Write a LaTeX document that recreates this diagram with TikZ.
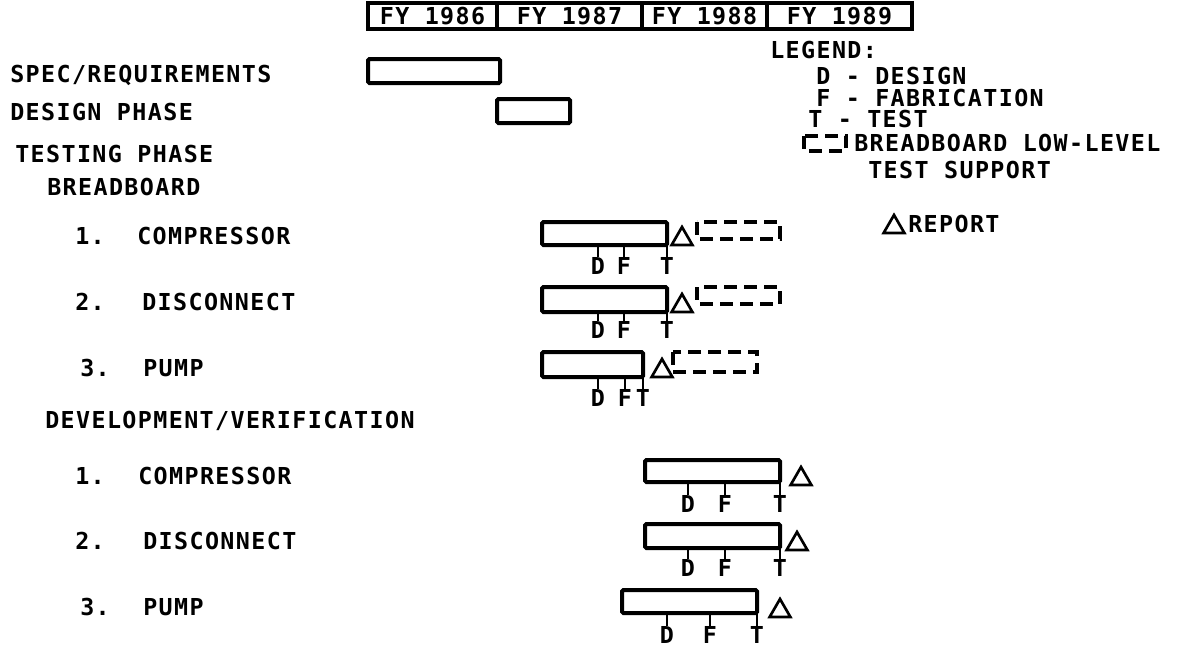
\documentclass[tikz,border=0pt]{standalone}
\usepackage{fontspec}
\newfontfamily\tw[LetterSpace=6]{DejaVu Sans Mono}
\usetikzlibrary{shapes.geometric}
\newcommand\gbar[8]{%
  \draw[bar] (#2,#4) rectangle (#3,#5);
  \draw[tick] (#6,#5) -- (#6,#8-9);
  \draw[tick] (#7,#5) -- (#7,#8-9);
  \draw[tick] (#3,#5) -- (#3,#8-9);
  \node[mid] (#1d) at (#6,#8) {D};
  \node[mid] (#1f) at (#7,#8) {F};
  \node[mid] (#1t) at (#3,#8) {T};
}
\begin{document}
\begin{tikzpicture}[x=0.75pt, y=-0.75pt,
  txt/.style={inner sep=0pt, text height=12.75pt, text depth=0pt,
    font=\tw\bfseries\fontsize{17.5pt}{20pt}\selectfont},
  lbl/.style={txt, anchor=west},
  mid/.style={txt, anchor=center},
  cell/.style={txt, draw, line width=2.4pt, minimum height=19.5pt},
  bar/.style={draw, line width=3pt, rounded corners=1pt},
  dbox/.style={draw, line width=3pt, dash pattern=on 10pt off 5pt},
  tick/.style={line width=1.8pt},
  tri/.style={draw, regular polygon, regular polygon sides=3, minimum size=18pt,
    inner sep=0pt, line width=2pt}]
\useasboundingbox (0,0) rectangle (1185,650);

% header
\node[cell, minimum width=96.75pt]  (fy86) at (432.5,16) {FY 1986};
\node[cell, minimum width=108.75pt] (fy87) at (569.5,16) {FY 1987};
\node[cell, minimum width=93.75pt]  (fy88) at (704.5,16) {FY 1988};
\node[cell, minimum width=108.75pt] (fy89) at (839.5,16) {FY 1989};

% legend
\node[lbl] (leg)  at (770,50)  {LEGEND:};
\node[lbl] (legd) at (816,76)  {D - DESIGN};
\node[lbl] (legf) at (816,98) {F - FABRICATION};
\node[lbl] (legt) at (808,119) {T - TEST};
\draw[dbox] (804,136) rectangle (846,151);
\node[lbl] (legb) at (854,143) {BREADBOARD LOW-LEVEL};
\node[lbl] (legs) at (868,170) {TEST SUPPORT};
\node[tri] (legtri) at (894,227) {};
\node[lbl] (legr) at (908,224) {REPORT};

% left labels
\node[lbl] (spec) at (10,74)  {SPEC/REQUIREMENTS};
\node[lbl] (des)  at (10,112) {DESIGN PHASE};
\node[lbl] (tst)  at (15,154) {TESTING PHASE};
\node[lbl] (bb)   at (47,187) {BREADBOARD};
\node[lbl] (bb1n) at (75,236) {1.};
\node[lbl] (bb1)  at (137,236) {COMPRESSOR};
\node[lbl] (bb2n) at (75,302) {2.};
\node[lbl] (bb2)  at (142,302) {DISCONNECT};
\node[lbl] (bb3n) at (80,368) {3.};
\node[lbl] (bb3)  at (143,368) {PUMP};
\node[lbl] (dv)   at (45,420) {DEVELOPMENT/VERIFICATION};
\node[lbl] (dv1n) at (75,476) {1.};
\node[lbl] (dv1)  at (138,476) {COMPRESSOR};
\node[lbl] (dv2n) at (75,541) {2.};
\node[lbl] (dv2)  at (143,541) {DISCONNECT};
\node[lbl] (dv3n) at (80,607) {3.};
\node[lbl] (dv3)  at (143,607) {PUMP};

% spec and design bars
\draw[bar] (368,59) rectangle (500,83);
\draw[bar] (497,99) rectangle (570,123);

% breadboard rows
\gbar{bbr1}{542}{667}{222}{245}{598}{624}{266}
\node[tri] (bbt1) at (682,239) {};
\draw[dbox] (697,222) rectangle (780,239);

\gbar{bbr2}{542}{667}{287}{312}{598}{624}{330}
\node[tri] (bbt2) at (682,306) {};
\draw[dbox] (697,287) rectangle (780,304);

\gbar{bbr3}{542}{643}{352}{377}{598}{625}{398}
\node[tri] (bbt3) at (662,371) {};
\draw[dbox] (673,352) rectangle (757,372);

% development rows
\gbar{dvr1}{645}{780}{460}{482}{688}{725}{504}
\node[tri] (dvt1) at (801,479) {};
\gbar{dvr2}{645}{780}{524}{548}{688}{725}{568}
\node[tri] (dvt2) at (797,544) {};
\gbar{dvr3}{622}{757}{590}{613}{667}{710}{635}
\node[tri] (dvt3) at (780,611) {};
\end{tikzpicture}
\end{document}
